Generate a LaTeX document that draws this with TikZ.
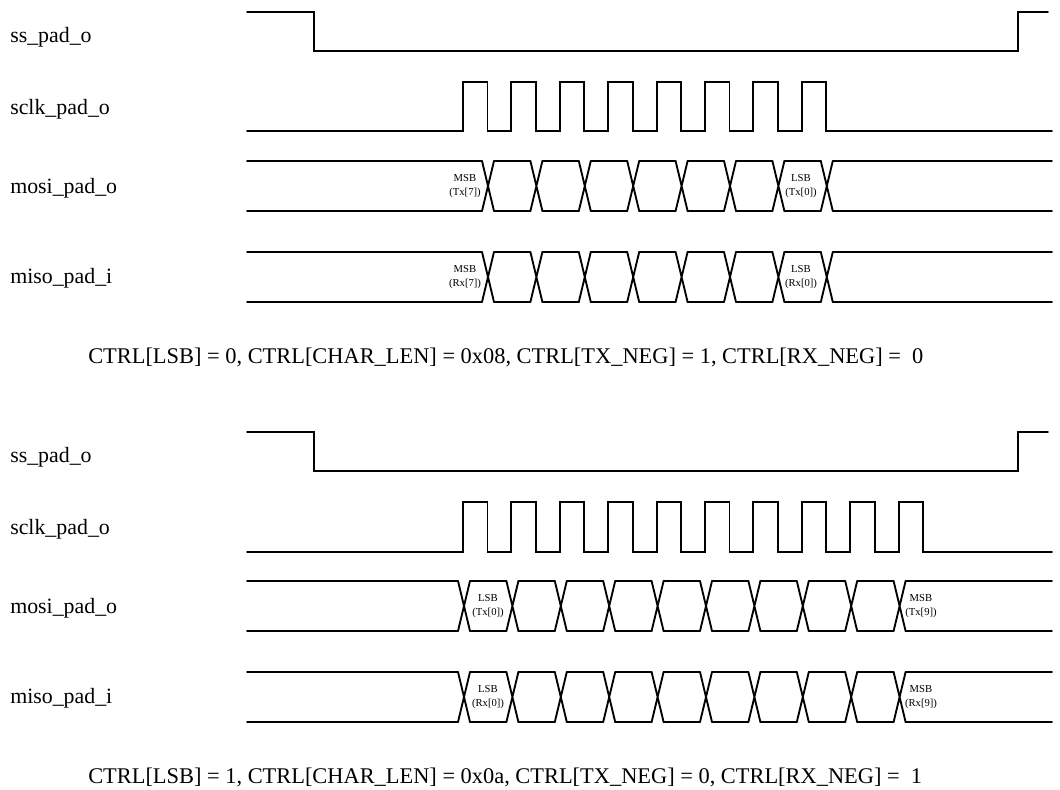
\documentclass[tikz,border=0pt]{standalone}
\usepackage{fontspec}
\setmainfont{Liberation Serif}

\tikzset{
  wave/.style={line width=1.4pt, line cap=round, line join=miter},
  signame/.style={anchor=base west, inner sep=0pt, font=\fontsize{16.4}{19}\selectfont},
  bitlabel/.style={align=center, inner sep=0pt, font=\fontsize{8}{11}\selectfont},
  setting/.style={anchor=base west, inner sep=0pt, font=\fontsize{16.8}{20}\selectfont},
}

% bus waveform: #1 top y, #2 first crossing x, #3 index of the last crossing
\newcommand{\busline}[3]{%
  \draw[wave] (247,#1) -- ({#2-6},#1) (247,#1+50) -- ({#2-6},#1+50);
  \foreach \k in {0,...,#3} {
    \draw[wave] ({#2+48.4*\k-6},#1) -- ({#2+48.4*\k+6},#1+50)
                ({#2+48.4*\k-6},#1+50) -- ({#2+48.4*\k+6},#1);
  }
  \foreach \k in {1,...,#3} {
    \draw[wave] ({#2+48.4*(\k-1)+6},#1) -- ({#2+48.4*\k-6},#1)
                ({#2+48.4*(\k-1)+6},#1+50) -- ({#2+48.4*\k-6},#1+50);
  }
  \draw[wave] ({#2+48.4*#3+6},#1) -- (1052,#1) ({#2+48.4*#3+6},#1+50) -- (1052,#1+50);
}

\begin{document}
\begin{tikzpicture}[x=0.75pt, y=-0.75pt]
\useasboundingbox (0,0) rectangle (1060,789);

% first setting: MSB first, 8 bits
\node[signame] (ssA) at (10,42.5) {ss\_pad\_o};
\node[signame] (sclkA) at (10,114) {sclk\_pad\_o};
\node[signame] (mosiA) at (10,193) {mosi\_pad\_o};
\node[signame] (misoA) at (10,283) {miso\_pad\_i};

\draw[wave] (247,12) -- (314,12) -- (314,51) -- (1018,51) -- (1018,12) -- (1048,12);
\draw[wave] (247,131) foreach \k in {0,...,7} {
  -- ({463+48.4*\k},131) -- ({463+48.4*\k},82) -- ({487.5+48.4*\k},82) -- ({487.5+48.4*\k},131)
} -- (1052,131);
\busline{161}{488}{7}
\busline{252}{488}{7}

\node[bitlabel] (msbTxA) at (465,186) {MSB\\(Tx[7])};
\node[bitlabel] (lsbTxA) at (801,186) {LSB\\(Tx[0])};
\node[bitlabel] (msbRxA) at (465,277) {MSB\\(Rx[7])};
\node[bitlabel] (lsbRxA) at (801,277) {LSB\\(Rx[0])};

\node[setting] (ctrlA) at (88,363) {CTRL[LSB] = 0, CTRL[CHAR\_LEN] = 0x08, CTRL[TX\_NEG] = 1, CTRL[RX\_NEG] = \ 0};

% second setting: LSB first, 10 bits
\node[signame] (ssB) at (10,462.5) {ss\_pad\_o};
\node[signame] (sclkB) at (10,534) {sclk\_pad\_o};
\node[signame] (mosiB) at (10,613) {mosi\_pad\_o};
\node[signame] (misoB) at (10,703) {miso\_pad\_i};

\draw[wave] (247,432) -- (314,432) -- (314,471) -- (1018,471) -- (1018,432) -- (1048,432);
\draw[wave] (247,552) foreach \k in {0,...,9} {
  -- ({463+48.4*\k},552) -- ({463+48.4*\k},502) -- ({487.5+48.4*\k},502) -- ({487.5+48.4*\k},552)
} -- (1052,552);
\busline{581}{464}{9}
\busline{672}{464}{9}

\node[bitlabel] (lsbTxB) at (488,606) {LSB\\(Tx[0])};
\node[bitlabel] (msbTxB) at (921,606) {MSB\\(Tx[9])};
\node[bitlabel] (lsbRxB) at (488,697) {LSB\\(Rx[0])};
\node[bitlabel] (msbRxB) at (921,697) {MSB\\(Rx[9])};

\node[setting] (ctrlB) at (88,783) {CTRL[LSB] = 1, CTRL[CHAR\_LEN] = 0x0a, CTRL[TX\_NEG] = 0, CTRL[RX\_NEG] = \ 1};
\end{tikzpicture}
\end{document}
